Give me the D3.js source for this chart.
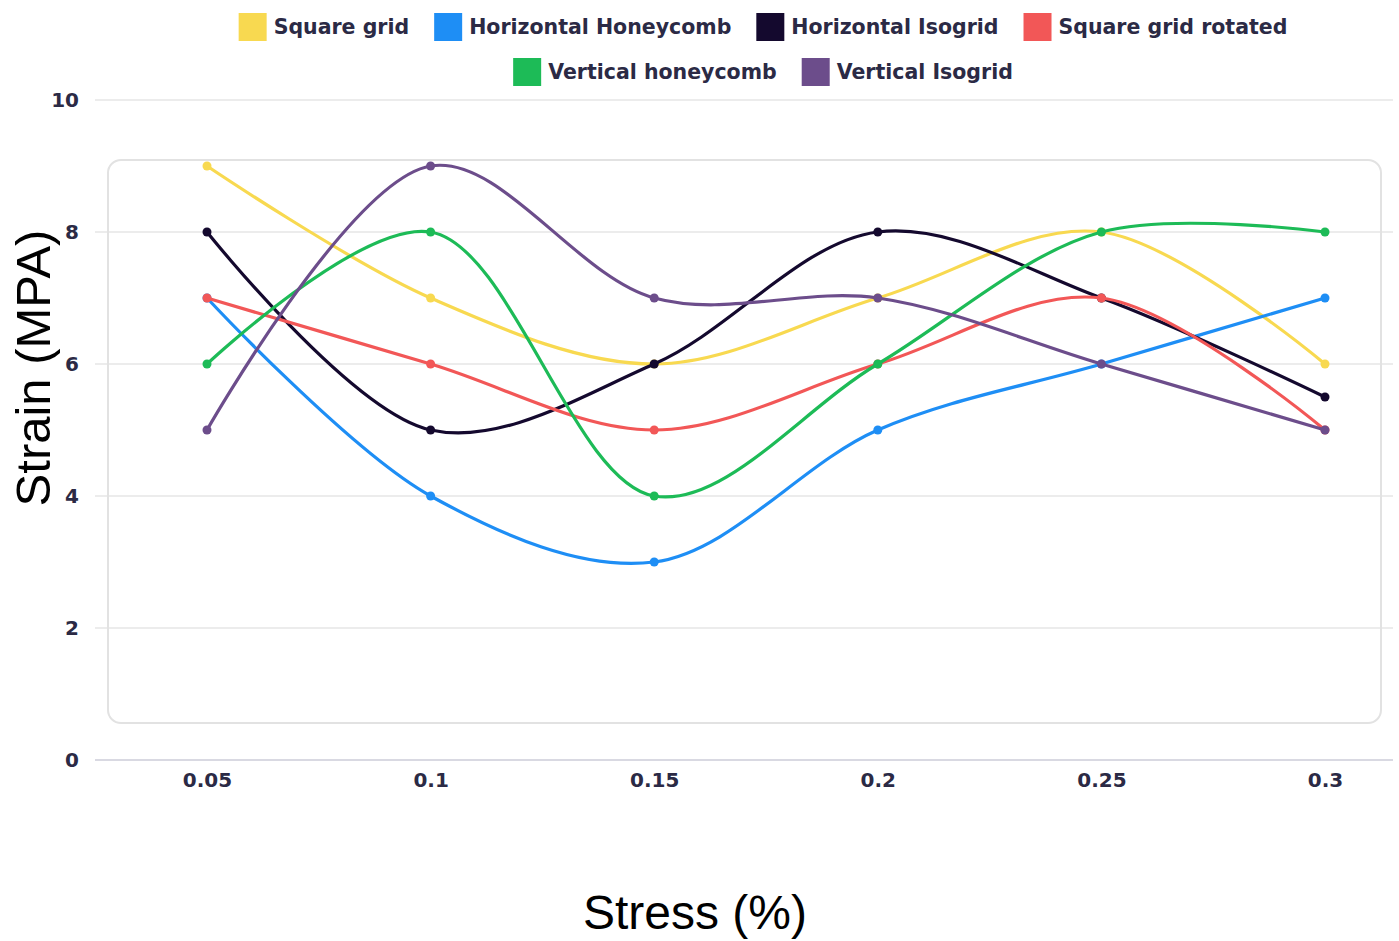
<!DOCTYPE html>
<html>
<head>
<meta charset="utf-8">
<script src="https://cdn.jsdelivr.net/npm/d3@7"></script>
<style>
  html, body { margin: 0; padding: 0; background: #fff; }
  svg { display: block; }
</style>
</head>
<body>
<svg id="chart" width="1399" height="941"></svg>
<script>
// Stress levels (x) and strain readings (y) per lattice pattern
const stress = [0.05, 0.1, 0.15, 0.2, 0.25, 0.3];
const stressLabels = ["0.05", "0.1", "0.15", "0.2", "0.25", "0.3"];
const strainTicks = [0, 2, 4, 6, 8, 10];

const seriesNames = ["Square grid", "Horizontal Honeycomb", "Horizontal Isogrid",
                     "Square grid rotated", "Vertical honeycomb", "Vertical Isogrid"];
const seriesColors = ["#f8d950", "#1e8ef5", "#14092e", "#f25757", "#1dbb57", "#6c4d8b"];

const squareGrid          = [9, 7, 6, 7, 8, 6];
const horizontalHoneycomb = [7, 4, 3, 5, 6, 7];
const horizontalIsogrid   = [8, 5, 6, 8, 7, 5.5];
const squareGridRotated   = [7, 6, 5, 6, 7, 5];
const verticalHoneycomb   = [6, 8, 4, 6, 8, 8];
const verticalIsogrid     = [5, 9, 7, 7, 6, 5];

const seriesValues = [squareGrid, horizontalHoneycomb, horizontalIsogrid,
                      squareGridRotated, verticalHoneycomb, verticalIsogrid];

const svg = d3.select("#chart");
const labelFont = "'DejaVu Sans', 'Noto Sans', sans-serif";
const tickColor = "#2b2a45";

const x = d3.scalePoint().domain(stress).range([207, 1325]);
const y = d3.scaleLinear().domain([0, 10]).range([760, 100]);

// horizontal grid lines
svg.append("g").selectAll("line")
  .data(strainTicks)
  .join("line")
  .attr("x1", 95).attr("x2", 1393)
  .attr("y1", d => y(d)).attr("y2", d => y(d))
  .attr("stroke", d => d === 0 ? "#d9d9e2" : "#ececec")
  .attr("stroke-width", 2);

// rounded plot frame
svg.append("rect")
  .attr("x", 108).attr("y", 160)
  .attr("width", 1273).attr("height", 563)
  .attr("rx", 13).attr("ry", 13)
  .attr("fill", "none")
  .attr("stroke", "#e2e2e2")
  .attr("stroke-width", 2);

// y axis
const yAxis = svg.append("g")
  .attr("transform", "translate(79,0)")
  .call(d3.axisLeft(y).tickValues(strainTicks).tickSize(0).tickPadding(0));
yAxis.select(".domain").remove();
yAxis.selectAll("text")
  .attr("font-family", labelFont).attr("font-weight", 700)
  .attr("font-size", 20).attr("fill", tickColor);

// x axis
const xAxis = svg.append("g")
  .attr("transform", "translate(0,773)")
  .call(d3.axisBottom(x).tickFormat((d, i) => stressLabels[i]).tickSize(0).tickPadding(0));
xAxis.select(".domain").remove();
xAxis.selectAll("text")
  .attr("dy", "0.71em")
  .attr("font-family", labelFont).attr("font-weight", 700)
  .attr("font-size", 20).attr("fill", tickColor);

// axis titles
svg.append("text")
  .attr("transform", "translate(50,368) rotate(-90)")
  .attr("text-anchor", "middle")
  .attr("font-family", "'Liberation Sans', Arial, sans-serif")
  .attr("font-size", 49).attr("fill", "#000")
  .text("Strain (MPA)");

svg.append("text")
  .attr("x", 695).attr("y", 929)
  .attr("text-anchor", "middle")
  .attr("font-family", "'Liberation Sans', Arial, sans-serif")
  .attr("font-size", 48).attr("fill", "#000")
  .text("Stress (%)");

// series lines and points
const line = d3.line()
  .x((d, i) => x(stress[i]))
  .y(d => y(d))
  .curve(d3.curveCatmullRom.alpha(0.5));

const seriesG = svg.append("g").selectAll("g")
  .data(seriesValues)
  .join("g");

seriesG.append("path")
  .attr("d", d => line(d))
  .attr("fill", "none")
  .attr("stroke", (d, i) => seriesColors[i])
  .attr("stroke-width", 3.2)
  .attr("stroke-linecap", "round");

seriesG.each(function(vals, si) {
  d3.select(this).selectAll("circle")
    .data(vals)
    .join("circle")
    .attr("cx", (d, i) => x(stress[i]))
    .attr("cy", d => y(d))
    .attr("r", 4.5)
    .attr("fill", seriesColors[si]);
});

// legend: two centred rows
const legendRows = [[0, 1, 2, 3], [4, 5]];
const legendY = [27, 72];
const legendCenter = 763;
const swatch = 28, swatchGap = 7, itemGap = 25;

const measure = svg.append("text")
  .attr("font-family", labelFont).attr("font-weight", 700).attr("font-size", 20.5);

legendRows.forEach((row, ri) => {
  const widths = row.map(si => {
    measure.text(seriesNames[si]);
    return measure.node().getComputedTextLength();
  });
  const total = d3.sum(widths) + row.length * (swatch + swatchGap) + (row.length - 1) * itemGap;
  let cx = legendCenter - total / 2;
  row.forEach((si, k) => {
    svg.append("rect")
      .attr("x", cx).attr("y", legendY[ri] - swatch / 2)
      .attr("width", swatch).attr("height", swatch)
      .attr("fill", seriesColors[si]);
    svg.append("text")
      .attr("x", cx + swatch + swatchGap).attr("y", legendY[ri])
      .attr("dy", "0.35em")
      .attr("font-family", labelFont).attr("font-weight", 700)
      .attr("font-size", 20.5).attr("fill", tickColor)
      .text(seriesNames[si]);
    cx += swatch + swatchGap + widths[k] + itemGap;
  });
});
measure.remove();
</script>
</body>
</html>
